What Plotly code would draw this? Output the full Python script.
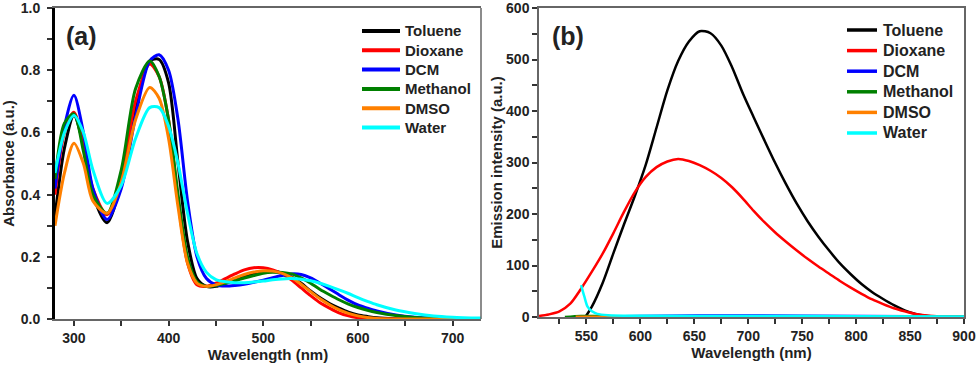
import plotly.graph_objects as go

# ---- data: absorbance (panel a) ----
solvents = ["Toluene", "Dioxane", "DCM", "Methanol", "DMSO", "Water"]
colors = ["#000000", "#ff0000", "#0000ff", "#008000", "#ff8000", "#00ffff"]

abs_wl = [280, 290, 300, 310, 320, 335, 350, 365, 380, 390, 400, 410, 420, 430,
          440, 450, 460, 470, 480, 490, 500, 510, 520, 530, 540, 550, 560, 570,
          580, 590, 600, 610, 620, 640, 660, 680, 700, 730]

abs_toluene = [0.33, 0.55, 0.655, 0.56, 0.40, 0.31, 0.44, 0.68, 0.83, 0.835, 0.76, 0.50, 0.25, 0.13,
               0.105, 0.105, 0.115, 0.125, 0.135, 0.145, 0.152, 0.153, 0.148, 0.135, 0.115, 0.09, 0.068, 0.05,
               0.035, 0.022, 0.013, 0.008, 0.004, 0.001, 0.0, 0.0, 0.0, 0.0]
abs_dioxane = [0.40, 0.60, 0.665, 0.56, 0.42, 0.335, 0.45, 0.70, 0.82, 0.78, 0.64, 0.38, 0.18, 0.11,
               0.105, 0.115, 0.13, 0.145, 0.158, 0.165, 0.165, 0.158, 0.145, 0.125, 0.10, 0.075, 0.052, 0.035,
               0.02, 0.01, 0.004, 0.001, 0.0, 0.0, 0.0, 0.0, 0.0, 0.0]
abs_dcm = [0.42, 0.62, 0.72, 0.60, 0.42, 0.32, 0.42, 0.65, 0.83, 0.85, 0.80, 0.64, 0.38, 0.20,
           0.13, 0.11, 0.106, 0.108, 0.112, 0.118, 0.125, 0.133, 0.140, 0.145, 0.143, 0.132, 0.115, 0.097,
           0.078, 0.060, 0.045, 0.035, 0.026, 0.013, 0.006, 0.003, 0.001, 0.0]
abs_methanol = [0.45, 0.63, 0.66, 0.54, 0.40, 0.34, 0.48, 0.74, 0.83, 0.78, 0.64, 0.40, 0.20, 0.12,
                0.105, 0.108, 0.115, 0.123, 0.132, 0.14, 0.147, 0.150, 0.150, 0.145, 0.132, 0.115, 0.095, 0.078,
                0.062, 0.048, 0.037, 0.028, 0.021, 0.011, 0.005, 0.002, 0.001, 0.0]
abs_dmso = [0.30, 0.47, 0.565, 0.50, 0.38, 0.34, 0.44, 0.64, 0.745, 0.71, 0.58, 0.36, 0.18, 0.115,
            0.105, 0.11, 0.12, 0.132, 0.143, 0.151, 0.155, 0.154, 0.147, 0.133, 0.112, 0.088, 0.065, 0.046,
            0.03, 0.018, 0.01, 0.005, 0.002, 0.0, 0.0, 0.0, 0.0, 0.0]
abs_water = [0.47, 0.60, 0.655, 0.60, 0.48, 0.372, 0.43, 0.58, 0.68, 0.68, 0.62, 0.50, 0.34, 0.21,
             0.15, 0.127, 0.12, 0.117, 0.117, 0.119, 0.122, 0.126, 0.129, 0.13, 0.128, 0.123, 0.115, 0.105,
             0.094, 0.082, 0.069, 0.057, 0.046, 0.029, 0.018, 0.010, 0.006, 0.003]

# ---- data: emission (panel b) ----
em_toluene_wl = [549, 555, 565, 575, 585, 595, 605, 615, 625, 635, 645, 655, 665, 675, 685, 695,
                 705, 715, 725, 735, 745, 755, 765, 775, 785, 795, 805, 815, 825, 835, 845, 855,
                 865, 875, 900]
em_toluene = [0, 20, 66, 124, 181, 236, 296, 368, 440, 497, 535, 555, 551, 527, 485, 434,
              388, 343, 299, 258, 220, 186, 156, 129, 104, 83, 64, 48, 35, 23, 13, 6,
              2.5, 1, 0]
em_dioxane_wl = [506, 515, 525, 535, 545, 555, 565, 575, 585, 595, 605, 615, 625, 635, 645, 655,
                 665, 675, 685, 695, 705, 715, 725, 735, 745, 755, 765, 775, 785, 795, 805, 815,
                 825, 835, 845, 855, 865, 875, 885, 900]
em_dioxane = [2, 5, 11, 26, 55, 88, 123, 163, 205, 243, 272, 291, 302, 307, 303, 295,
              284, 270, 252, 230, 206, 184, 164, 146, 129, 113, 98, 84, 70, 57, 45, 34,
              25, 17, 11, 6, 3, 1.5, 0.5, 0]
em_dcm_wl = [540, 600, 700, 800, 900]
em_dcm = [0, 2, 3, 2, 1]
em_methanol_wl = [530, 545, 560, 600, 900]
em_methanol = [0, 2, 2, 1, 0.5]
em_dmso_wl = [540, 700, 900]
em_dmso = [0.5, 0.5, 0.5]
em_water_wl = [545, 548, 551, 555, 560, 570, 600, 700, 800, 900]
em_water = [62, 40, 20, 11, 6, 3.5, 2.5, 2, 1.5, 1]

abs_series = [abs_toluene, abs_dioxane, abs_dcm, abs_methanol, abs_dmso, abs_water]
em_series = [(em_toluene_wl, em_toluene), (em_dioxane_wl, em_dioxane), (em_dcm_wl, em_dcm),
             (em_methanol_wl, em_methanol), (em_dmso_wl, em_dmso), (em_water_wl, em_water)]

FONT = "Liberation Sans, Arial, sans-serif"
W, H = 979, 365
TXT = "#222222"
frame = "#666666"

fig = go.Figure()

for name, col, ys in zip(solvents, colors, abs_series):
    fig.add_trace(go.Scatter(x=abs_wl, y=ys, name=name, mode="lines",
                             line=dict(color=col, width=3, shape="spline", smoothing=0.8),
                             xaxis="x", yaxis="y", showlegend=False))

for name, col, (xs, ys) in zip(solvents, colors, em_series):
    fig.add_trace(go.Scatter(x=xs, y=ys, name=name, mode="lines",
                             line=dict(color=col, width=2.5, shape="spline", smoothing=0.8),
                             xaxis="x2", yaxis="y2", showlegend=False))

# panel geometry in pixels
ax_l, ax_r, b_l, b_r = 55, 481, 539, 964
top_a, bot_a, top_b, bot_b = 8, 319, 8, 317

tickfont = dict(family=FONT, size=14, color=TXT, weight="bold")
titlefont = dict(family=FONT, size=15, color=TXT, weight="bold")

common_x = dict(showgrid=False, zeroline=False, showline=True, linecolor=frame, linewidth=1.5,
                mirror=True, ticks="outside", ticklen=5, tickcolor="#333", tickwidth=1.5,
                tickfont=tickfont, title_font=titlefont, ticklabeloverflow="allow",
                automargin=False)
common_y = dict(showgrid=False, zeroline=False, ticks="outside", ticklen=5, tickcolor="#333",
                tickwidth=1.5, tickfont=tickfont, title_font=titlefont, ticklabeloverflow="allow",
                automargin=False)

fig.update_layout(
    width=W, height=H,
    margin=dict(l=0, r=0, t=0, b=0, autoexpand=False),
    paper_bgcolor="white", plot_bgcolor="white",
    font=dict(family=FONT, weight="bold", color=TXT),
    showlegend=False,
    xaxis=dict(common_x, domain=[ax_l / W, ax_r / W], range=[280, 730], dtick=100,
               minor=dict(dtick=50, ticks="outside", ticklen=5, tickcolor="#333"),
               title=dict(text="Wavelength (nm)", standoff=2), anchor="y"),
    yaxis=dict(common_y, domain=[1 - bot_a / H, 1 - top_a / H], range=[0, 1.0005],
               tickvals=[0, 0.2, 0.4, 0.6, 0.8, 1.0], tickformat=".1f",
               showline=True, linecolor="black", linewidth=3, mirror=False,
               ticklabelstandoff=4,
               minor=dict(tickvals=[0.1, 0.3, 0.5, 0.7, 0.9], ticks="outside", ticklen=5,
                          tickcolor="#333"),
               title=dict(text="Absorbance (a.u.)", standoff=12), anchor="x"),
    xaxis2=dict(common_x, domain=[b_l / W, b_r / W], range=[506, 900], dtick=50,
                minor=dict(dtick=25, ticks="outside", ticklen=5, tickcolor="#333"),
                title=dict(text="Wavelength (nm)", standoff=2), anchor="y2"),
    yaxis2=dict(common_y, domain=[1 - bot_b / H, 1 - top_b / H], range=[0, 600], dtick=100,
                showline=True, linecolor=frame, linewidth=1.5, mirror=True,
                minor=dict(dtick=50, ticks="outside", ticklen=5, tickcolor="#333"),
                title=dict(text="Emission intensity (a.u.)", standoff=0), anchor="x2"),
)

# right spine of panel (a) in grey
fig.add_shape(type="line", xref="x domain", yref="y domain", x0=1, x1=1, y0=0, y1=1,
              line=dict(color=frame, width=1.5))

# hand-placed legends (line key + label), one per panel
legends = [
    dict(x0=362, x1=400, tx=403, y0=31, dy=19.3, size=15, lw=4),
    dict(x0=847, x1=877, tx=881, y0=30, dy=20.6, size=16, lw=3.5),
]
for lg in legends:
    for i, (name, col) in enumerate(zip(solvents, colors)):
        yy = 1 - (lg["y0"] + i * lg["dy"]) / H
        fig.add_shape(type="line", xref="paper", yref="paper",
                      x0=lg["x0"] / W, x1=lg["x1"] / W, y0=yy, y1=yy,
                      line=dict(color=col, width=lg["lw"]))
        fig.add_annotation(text=name, xref="paper", yref="paper", x=lg["tx"] / W, y=yy,
                           xanchor="left", yanchor="middle", showarrow=False,
                           font=dict(family=FONT, size=lg["size"], color=TXT, weight="bold"))

fig.add_annotation(text="(a)", xref="x domain", yref="y domain", x=0.02, y=0.91,
                   xanchor="left", yanchor="middle", showarrow=False,
                   font=dict(family=FONT, size=25, color=TXT, weight="bold"))
fig.add_annotation(text="(b)", xref="x2 domain", yref="y2 domain", x=0.025, y=0.91,
                   xanchor="left", yanchor="middle", showarrow=False,
                   font=dict(family=FONT, size=25, color=TXT, weight="bold"))

# the page body has a default 8px margin; drop it so the figure fills the window
fig.write_html("out.html", config={"displayModeBar": False},
               post_script="document.body.style.margin='0';")
